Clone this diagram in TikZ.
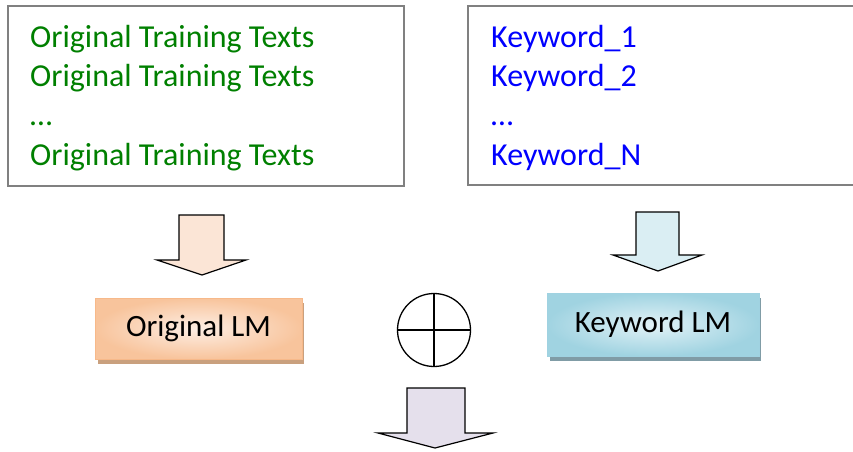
\documentclass[tikz,border=0pt]{standalone}
\usepackage{fontspec}
\setmainfont{Carlito}
\definecolor{textgreen}{RGB}{0,128,0}
\definecolor{textblue}{RGB}{0,0,255}
\definecolor{framegray}{RGB}{128,128,128}
\definecolor{peach}{RGB}{251,229,214}
\definecolor{paleblue}{RGB}{218,238,243}
\definecolor{lilac}{RGB}{229,224,236}
\definecolor{orangedark}{RGB}{248,196,156}
\definecolor{orangelight}{RGB}{253,238,228}
\definecolor{orangeedge}{RGB}{247,185,138}
\definecolor{orangeshadow}{RGB}{201,160,126}
\definecolor{bluedark}{RGB}{160,211,225}
\definecolor{bluelight}{RGB}{226,242,247}
\definecolor{blueedge}{RGB}{160,210,225}
\definecolor{blueshadow}{RGB}{128,156,166}
\tikzset{
  textframe/.style={draw=framegray, line width=1.3pt, fill=white},
  lineitem/.style={anchor=base west, inner sep=0pt, font=\fontsize{32}{39}\selectfont},
  blockarrow/.style={draw=black, line width=1.2pt, line join=miter},
  lmbox/.style={inner sep=0pt, font=\fontsize{31}{37}\selectfont},
}
\begin{document}
\begin{tikzpicture}[x=1pt, y=-1pt]
\useasboundingbox (0,0) rectangle (853,451);

% input frames
\draw[textframe] (8,6) rectangle (404,186);
\draw[textframe] (468,6) rectangle (854,185);

% training texts
\node[lineitem, text=textgreen] (t1) at (30,47) {Original Training Texts};
\node[lineitem, text=textgreen] (t2) at (30,86) {Original Training Texts};
\node[lineitem, text=textgreen] (t3) at (30,125) {…};
\node[lineitem, text=textgreen] (t4) at (30,165) {Original Training Texts};

% keywords
\node[lineitem, text=textblue] (k1) at (491,47) {Keyword\_1};
\node[lineitem, text=textblue] (k2) at (491,86) {Keyword\_2};
\node[lineitem, text=textblue] (k3) at (491,125) {…};
\node[lineitem, text=textblue] (k4) at (491,165) {Keyword\_N};

% block arrows
\draw[blockarrow, fill=peach]
  (179,215) -- (224,215) -- (224,260) -- (246,260) -- (202,275)
  -- (157,260) -- (179,260) -- cycle;
\draw[blockarrow, fill=paleblue]
  (636,212) -- (679,212) -- (679,255) -- (702,255) -- (658,271)
  -- (613,255) -- (636,255) -- cycle;
\draw[blockarrow, fill=lilac]
  (407,388) -- (465,388) -- (465,433) -- (493,433) -- (435,448)
  -- (378,433) -- (407,433) -- cycle;

% language model boxes with drop shadows
\fill[orangeshadow] (98,303) rectangle (304,364);
\shade[inner color=orangelight, outer color=orangedark]
  (95,298) rectangle (302,359);
\draw[orangeedge, line width=1pt] (95,298) rectangle (302,359);
\node[lmbox] (olm) at (198.5,328.5) {Original LM};

\fill[blueshadow] (550,298) rectangle (761,361);
\shade[inner color=bluelight, outer color=bluedark]
  (547,293) rectangle (759,356);
\draw[blueedge, line width=1pt] (547,293) rectangle (759,356);
\node[lmbox] (klm) at (653,324.5) {Keyword LM};

% combination operator
\node[draw=black, line width=1.3pt, circle, minimum size=73pt, inner sep=0pt] (oplus) at (434,330) {};
\draw[line width=1.3pt] (oplus.north) -- (oplus.south);
\draw[line width=1.3pt] (oplus.west) -- (oplus.east);
\end{tikzpicture}
\end{document}
